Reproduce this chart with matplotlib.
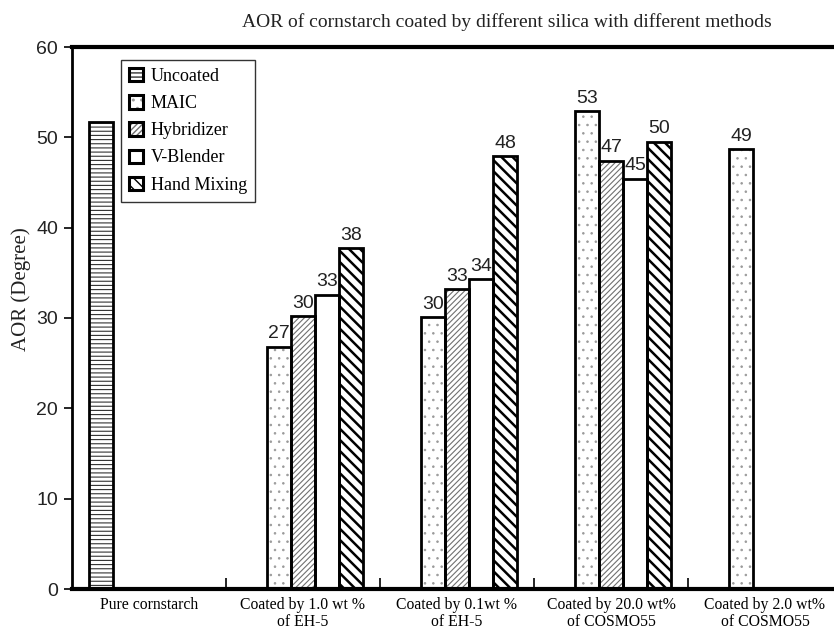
import matplotlib
matplotlib.use("Agg")
import matplotlib.pyplot as plt
import numpy as np
from matplotlib.patches import Patch
from matplotlib.legend_handler import HandlerTuple

# ---- data -------------------------------------------------------------
groups = ["Pure cornstarch",
          "Coated by 1.0 wt %\nof EH-5",
          "Coated by 0.1wt %\nof EH-5",
          "Coated by 20.0 wt%\nof COSMO55",
          "Coated by 2.0 wt%\nof COSMO55"]
methods = ["Uncoated", "MAIC", "Hybridizer", "V-Blender", "Hand Mixing"]

uncoated    = [51.7, None, None, None, None]
maic        = [None, 26.8, 30.1, 52.9, 48.7]
hybridizer  = [None, 30.2, 33.2, 47.4, None]
v_blender   = [None, 32.6, 34.3, 45.4, None]
hand_mixing = [None, 37.7, 47.9, 49.5, None]
series = [uncoated, maic, hybridizer, v_blender, hand_mixing]
labelled = [False, True, True, True, True]

yticks = [0, 10, 20, 30, 40, 50, 60]

# ---- style per method -------------------------------------------------
styles = {
    "Uncoated":    dict(hatch="----", hcolor="#333333", hlw=0.8),
    "MAIC":        dict(hatch="..", hcolor="#9a9a9a", hlw=0.6),
    "Hybridizer":  dict(hatch="//////", hcolor="#707070", hlw=0.8),
    "V-Blender":   dict(hatch="", hcolor="black", hlw=0.8),
    "Hand Mixing": dict(hatch="\\\\\\", hcolor="black", hlw=1.8),
}

W, H = 834, 630
fig = plt.figure(figsize=(W / 100, H / 100), dpi=100)
ax = fig.add_axes([72 / W, 41 / H, 770 / W, 542 / H])

bar_w = 0.156
x = np.arange(len(groups))


def hatched_rect(xc, h, st):
    """Hatched fill layer plus a black outline on top."""
    with plt.rc_context({"hatch.linewidth": st["hlw"]}):
        b = ax.bar(xc, h, bar_w, color="white", edgecolor=st["hcolor"],
                   linewidth=0, hatch=st["hatch"], zorder=2)
        for p in b:
            if hasattr(p, "set_hatch_linewidth"):
                p.set_hatch_linewidth(st["hlw"])
    ax.bar(xc, h, bar_w, color="none", edgecolor="black", linewidth=2.0,
           zorder=3)


for k, (name, vals) in enumerate(zip(methods, series)):
    st = styles[name]
    for i, v in enumerate(vals):
        if v is None:
            continue
        xc = x[i] + (k - 2) * bar_w
        hatched_rect(xc, v, st)
        if labelled[k]:
            ax.text(xc, v + 0.5, f"{v:.0f}", ha="center", va="bottom",
                    fontsize=14, family="Liberation Sans", color="#222222",
                    zorder=4)

# ---- axes -------------------------------------------------------------
ax.set_xlim(-0.5, 4.5)
ax.set_ylim(0, 60)
ax.set_yticks(yticks)
ax.set_yticklabels([str(t) for t in yticks], family="Liberation Sans",
                   fontsize=14, color="#222222")
ax.tick_params(axis="y", direction="out", length=6, width=1.2, pad=4)

ax.set_xticks(x)
ax.set_xticklabels(groups, family="Liberation Serif", fontsize=11.3,
                   linespacing=1.05)
ax.tick_params(axis="x", which="major", length=0, pad=6)
ax.set_xticks(np.arange(0.5, 4.5, 1.0), minor=True)
ax.tick_params(axis="x", which="minor", direction="in", length=8, width=1.2)

ax.spines["right"].set_visible(False)
ax.spines["left"].set_linewidth(2.0)
ax.spines["top"].set_linewidth(3.0)
ax.spines["bottom"].set_linewidth(3.0)

fig.text(21 / W, 1 - 289 / H, "AOR (Degree)", rotation=90, ha="center",
         va="center", family="Liberation Serif", fontsize=15, color="#222222")
fig.text(507 / W, 1 - 22 / H,
         "AOR of cornstarch coated by different silica with different methods",
         ha="center", va="center", family="Liberation Serif", fontsize=14,
         color="#222222")

# ---- legend -----------------------------------------------------------
handles = []
for name in methods:
    st = styles[name]
    with plt.rc_context({"hatch.linewidth": st["hlw"]}):
        fill = Patch(facecolor="white", edgecolor=st["hcolor"], linewidth=0,
                     hatch=st["hatch"])
    outline = Patch(facecolor="none", edgecolor="black", linewidth=2.2)
    handles.append((fill, outline))

leg = ax.legend(handles, methods, loc="upper left",
                bbox_to_anchor=((121 - 72) / 770, (589 - 60) / 542),
                borderaxespad=0, handler_map={tuple: HandlerTuple(ndivide=1)},
                prop={"family": "Liberation Serif", "size": 13},
                handlelength=0.75, handleheight=0.75, handletextpad=0.45,
                labelspacing=0.56, borderpad=0.45, fancybox=False,
                edgecolor="#333333", framealpha=1)
leg.get_frame().set_linewidth(1.0)

fig.savefig("out.png", dpi=100)
